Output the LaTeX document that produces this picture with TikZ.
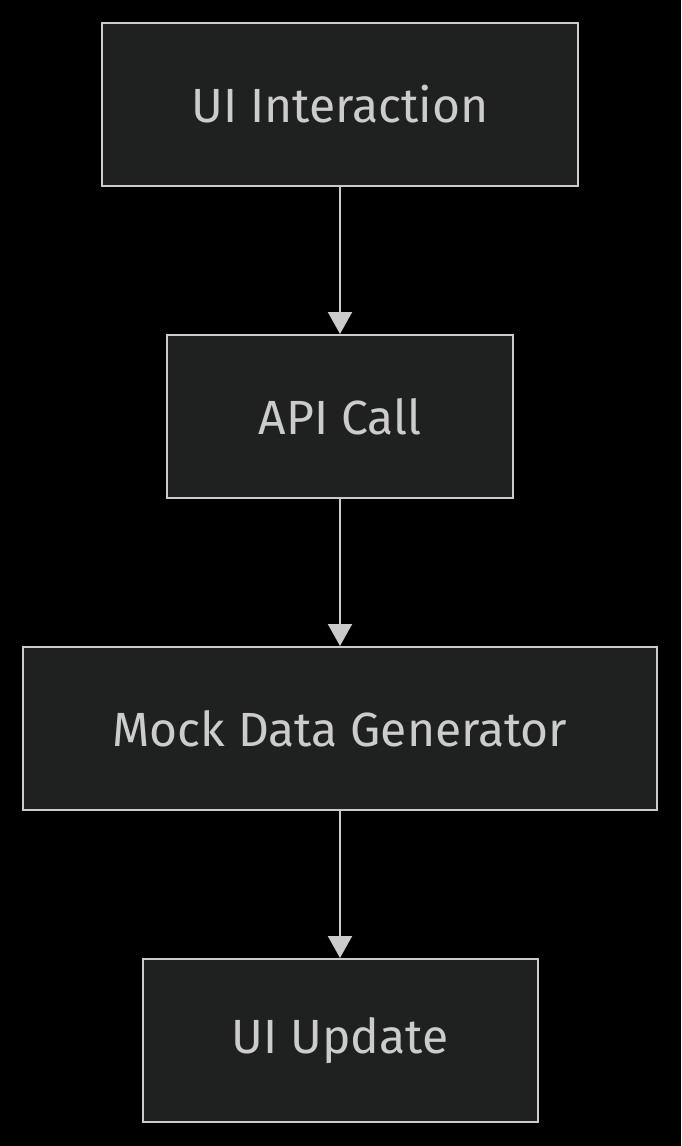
\documentclass[tikz,border=0pt]{standalone}
\usepackage{fontspec}
\setmainfont{Fira Sans}
\usetikzlibrary{arrows.meta}
\definecolor{boxfill}{HTML}{1F2020}
\definecolor{linecol}{HTML}{CCCCCC}
\begin{document}
\begin{tikzpicture}[x=1pt,y=1pt,
  box/.style={draw=linecol, line width=2pt, fill=boxfill, text=linecol, font=\fontsize{48}{56}\selectfont, inner sep=0pt},
  conn/.style={draw=linecol, line width=2pt, -{Triangle[length=22pt,width=24pt]}}]
\fill[black] (0,0) rectangle (681,-1146);
\useasboundingbox (0,0) rectangle (681,-1146);
\node[box, minimum width=476pt, minimum height=163pt] (a) at (340,-104.5) {UI Interaction};
\node[box, minimum width=346pt, minimum height=163pt] (b) at (340,-416.5) {API Call};
\node[box, minimum width=634pt, minimum height=163pt] (c) at (340,-728.5) {Mock Data Generator};
\node[box, minimum width=395pt, minimum height=163pt] (d) at (340,-1040.5) {UI Update};
\draw[conn] (a) -- (b);
\draw[conn] (b) -- (c);
\draw[conn] (c) -- (d);
\end{tikzpicture}
\end{document}
